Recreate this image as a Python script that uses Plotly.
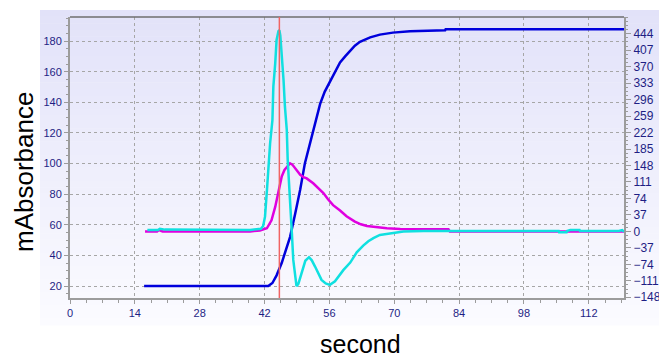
import plotly.graph_objects as go

# ---- data -------------------------------------------------------------
# time axis (second) and absorbance traces
blue_t = [16.0, 42.8, 43.7, 44.6, 45.7, 46.6, 47.5, 48.6, 49.7, 50.7, 51.5, 52.8,
          54.0, 55.0, 56.1, 57.2, 58.3, 59.4, 60.5, 61.5, 62.6, 63.7, 64.8, 66.9,
          69.7, 73.4, 77.7, 81.0, 81.1, 119.6]
blue_v = [20, 20, 22, 27, 35, 43, 52, 67, 83, 100, 109, 125,
          139, 147, 153, 160, 166, 170, 174, 177, 179.5, 181, 182.4, 184.2,
          185.5, 186.4, 187, 187.1, 187.7, 187.7]

magenta_t = [16.2, 18.8, 19.2, 20.0, 38.9, 41.0, 42.5, 43.5, 44.3, 45.0, 45.7, 46.3,
             46.8, 47.5, 48.0, 48.6, 49.7, 50.4, 51.1, 52.5, 53.6, 54.7, 55.7, 56.8,
             58.3, 59.7, 61.5, 62.8, 64.1, 66.2, 68.4, 71.3, 75.6, 81.7, 82.0, 119.6]
magenta_v = [0, 0, 3, 0, 0, 2, 7, 25, 55, 93, 123, 138,
             145, 153, 150, 142, 127, 122, 119, 108, 97, 86, 72, 59,
             47, 34, 22, 16, 12, 9, 7, 5.4, 4.7, 4.7, 0, 0]

cyan_t = [16.7, 19.0, 19.4, 20.5, 38.9, 41.2, 41.7, 42.1, 42.5, 42.9, 43.2, 43.7,
          43.9, 44.3, 44.6, 45.0, 45.2, 45.4, 45.7, 46.1, 46.4, 46.8, 47.0, 47.1,
          47.5, 47.9, 48.2, 48.6, 48.9, 49.3, 50.0, 50.8, 51.6, 52.2, 52.9, 54.3,
          55.2, 56.1, 57.2, 58.3, 59.0, 60.5, 61.2, 61.9, 63.3, 64.4, 65.5, 66.9,
          67.6, 69.8, 72.0, 76.3, 105.5, 105.6, 107.2, 107.3, 108.0, 110.0, 110.1,
          118.5, 119.2, 119.6]
cyan_v = [3, 3, 6, 4, 3, 6, 12, 33, 90, 160, 198, 250,
          325, 377, 430, 450, 452, 440, 400, 340, 280, 228, 160, 138,
          70, -4, -64, -105, -123, -118, -94, -66, -58, -65, -79, -109,
          -117, -120, -112, -97, -87, -70, -57, -47, -32, -22, -15, -8,
          -7, -4, 0, 1, 1, -2, -2, 1, 3, 3, 1,
          1, 3, -1]

marker_time = 45.2

x_ticks = [0, 14, 28, 42, 56, 70, 84, 98, 112]
left_ticks = [20, 40, 60, 80, 100, 120, 140, 160, 180]
right_ticks = [-148, -111, -74, -37, 0, 37, 74, 111, 148, 185, 222, 259, 296, 333,
               370, 407, 444]

# ---- figure -----------------------------------------------------------
W, H = 659, 360
L, R, T, B = 70, 35, 17, 62
pw, ph = W - L - R, H - T - B

fig = go.Figure()
fig.add_trace(go.Scatter(x=magenta_t, y=magenta_v, yaxis="y2", mode="lines",
                         line=dict(color="#E000E0", width=2.5), showlegend=False))
fig.add_trace(go.Scatter(x=cyan_t, y=cyan_v, yaxis="y2", mode="lines",
                         line=dict(color="#10E0E0", width=2.5), showlegend=False))
fig.add_trace(go.Scatter(x=blue_t, y=blue_v, mode="lines",
                         line=dict(color="#0000DC", width=2.5), showlegend=False))


def px_x(p):
    return (p - L) / pw


def px_y(p):
    return (H - B - p) / ph


shapes = []
# vertical gradient behind the chart panel
x0, x1 = px_x(40), px_x(W)
top, bottom = 10, 325
n = 48
c_top = (226, 226, 249)
c_bot = (251, 251, 255)
for i in range(n):
    f = i / (n - 1)
    c = tuple(round(a + (b - a) * f) for a, b in zip(c_top, c_bot))
    ya = top + (bottom - top) * i / n
    yb = top + (bottom - top) * (i + 1) / n + 0.6
    shapes.append(dict(type="rect", xref="paper", yref="paper", layer="below",
                       x0=x0, x1=x1, y0=px_y(yb), y1=px_y(ya),
                       line=dict(width=0), fillcolor="rgb(%d,%d,%d)" % c))
# top frame line
shapes.append(dict(type="line", xref="paper", yref="paper", x0=0, x1=1, y0=1, y1=1,
                   line=dict(color="#6E6E6E", width=1.5)))
# marker line
shapes.append(dict(type="line", xref="x", yref="paper", x0=marker_time, x1=marker_time,
                   y0=0, y1=1, line=dict(color="#F06464", width=1.5)))

tick_font = dict(family="Liberation Sans, Arial, sans-serif", size=11, color="#1E1E84")
axis_line = "#9C9C9C"

fig.update_layout(
    width=W, height=H,
    margin=dict(l=L, r=R, t=T, b=B, autoexpand=False),
    paper_bgcolor="white",
    plot_bgcolor="rgba(0,0,0,0)",
    shapes=shapes,
    xaxis=dict(range=[0, 119.6], tickvals=x_ticks, tickfont=tick_font,
               automargin=False,
               showgrid=True, gridcolor="#A6A6A6", griddash="dot", gridwidth=1,
               showline=True, linecolor=axis_line, linewidth=2,
               ticks="outside", ticklen=4, tickcolor=axis_line, tickwidth=1,
               minor=dict(dtick=3.5, ticks="outside", ticklen=3, tickcolor=axis_line,
                          showgrid=False),
               zeroline=False),
    yaxis=dict(range=[12.2, 195.7], tickvals=left_ticks, tickfont=tick_font,
               automargin=False,
               showgrid=True, gridcolor="#A6A6A6", griddash="dot", gridwidth=1,
               showline=True, linecolor=axis_line, linewidth=2,
               ticks="outside", ticklen=4, tickcolor=axis_line, tickwidth=1,
               minor=dict(dtick=5, tick0=0, ticks="outside", ticklen=2,
                          tickcolor=axis_line, showgrid=False),
               zeroline=False),
    yaxis2=dict(range=[-149.6, 481.5], tickvals=right_ticks, overlaying="y",
                side="right", showgrid=False, zeroline=False, automargin=False,
                tickfont=dict(family="Liberation Sans, Arial, sans-serif", size=12,
                              color="#1E1E84"),
                showline=True, linecolor=axis_line, linewidth=2,
                ticks="outside", ticklen=5, tickcolor=axis_line, tickwidth=1,
                minor=dict(dtick=9.25, tick0=0, ticks="outside", ticklen=2,
                           tickcolor=axis_line)),
    annotations=[
        dict(text="mAbsorbance", xref="paper", yref="paper", x=px_x(24), y=px_y(172),
             xanchor="center", yanchor="middle", textangle=-90, showarrow=False,
             font=dict(family="Liberation Sans, Arial, sans-serif", size=26,
                       color="black")),
        dict(text="second", xref="paper", yref="paper", x=px_x(360), y=px_y(344),
             xanchor="center", yanchor="middle", showarrow=False,
             font=dict(family="Liberation Sans, Arial, sans-serif", size=25,
                       color="black")),
    ],
)

fig.write_html("out.html")
